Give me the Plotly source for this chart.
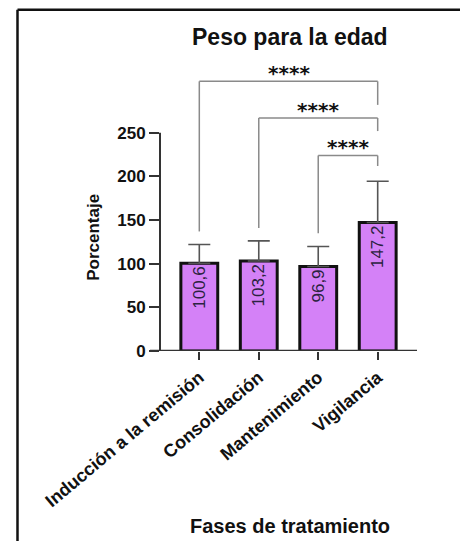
import plotly.graph_objects as go

# ---- data ----
categories = ["Inducción a la remisión", "Consolidación", "Mantenimiento", "Vigilancia"]
means = [100.6, 103.2, 96.9, 147.2]
sd_upper = [21.4, 23.0, 22.8, 47.3]
y_ticks = [0, 50, 100, 150, 200, 250]

# significance comparisons (index pairs) and their bracket levels
comparisons = [(0, 3), (1, 3), (2, 3)]
bracket_level = [309, 267, 224]
left_leg_end = [137, 141, 135]
right_leg_end = [282, 252, 212]
sig_labels = ["****", "****", "****"]

title_text = "Peso para la edad"
y_title = "Porcentaje"
x_title = "Fases de tratamiento"

FONT = "Arial, 'Liberation Sans', sans-serif"
bar_fill = "#d481f7"

labels = [f"{v:.1f}".replace(".", ",") for v in means]

fig = go.Figure()
fig.add_trace(go.Bar(
    x=list(range(len(categories))),
    y=means,
    width=0.62,
    marker=dict(color=bar_fill, line=dict(color="#111111", width=3)),
    error_y=dict(type="data", symmetric=False, array=sd_upper,
                 arrayminus=[0] * len(means), color="#555555",
                 thickness=1.6, width=11),
    text=labels,
    textposition="inside",
    insidetextanchor="end",
    textangle=-90,
    textfont=dict(family=FONT, size=17, color="#2b2340"),
    cliponaxis=False,
    showlegend=False,
))

shapes = []
annotations = []
for (a, b), lvl, le, re_, lab in zip(comparisons, bracket_level, left_leg_end,
                                      right_leg_end, sig_labels):
    line = dict(color="#8a8a8a", width=1.5)
    shapes.append(dict(type="line", xref="x", yref="y", x0=a, x1=a, y0=le, y1=lvl, line=line))
    shapes.append(dict(type="line", xref="x", yref="y", x0=a, x1=b, y0=lvl, y1=lvl, line=line))
    shapes.append(dict(type="line", xref="x", yref="y", x0=b, x1=b, y0=lvl, y1=re_, line=line))
    annotations.append(dict(x=(a + b) / 2, y=lvl + 9.5, xref="x", yref="y",
                            text=lab, showarrow=False, yanchor="middle",
                            font=dict(family="DejaVu Sans", size=20, color="#111111",
                                      weight="bold")))

# axis lines (GraphPad-style)
shapes.append(dict(type="line", xref="paper", yref="y", x0=0, x1=0, y0=0, y1=250,
                   line=dict(color="#333333", width=2)))
shapes.append(dict(type="line", xref="paper", yref="y", x0=-0.039, x1=1.0, y0=0, y1=0,
                   line=dict(color="#333333", width=2.5)))
# outer frame (left and top edges visible in the reference)
frame = dict(color="#111111", width=2.5)
shapes.append(dict(type="line", xref="paper", yref="paper", x0=-0.5545, x1=-0.5545,
                   y0=-0.75, y1=1.185, line=frame))
shapes.append(dict(type="line", xref="paper", yref="paper", x0=-0.5545, x1=1.25,
                   y0=1.185, y1=1.185, line=frame))

annotations.append(dict(x=0.504, y=1.0913, xref="paper", yref="paper", text=title_text,
                        showarrow=False, xanchor="center", yanchor="middle",
                        font=dict(family=FONT, size=23, color="#111111", weight="bold")))
annotations.append(dict(x=-0.2595, y=0.394, xref="paper", yref="paper", text=y_title,
                        showarrow=False, textangle=-90, xanchor="center", yanchor="middle",
                        font=dict(family=FONT, size=17, color="#111111", weight="bold")))
annotations.append(dict(x=0.504, y=-0.6076, xref="paper", yref="paper", text=x_title,
                        showarrow=False, xanchor="center", yanchor="middle",
                        font=dict(family=FONT, size=20, color="#111111", weight="bold")))

fig.update_layout(
    width=460, height=533,
    margin=dict(l=152, r=51, t=55, b=190),
    paper_bgcolor="white", plot_bgcolor="white",
    shapes=shapes, annotations=annotations,
    xaxis=dict(range=[-0.661, 3.661], tickmode="array",
               tickvals=list(range(len(categories))), ticktext=categories,
               tickangle=-40, ticks="outside", ticklen=8, tickwidth=2,
               tickcolor="#333333", showline=False, showgrid=False, zeroline=False,
               tickfont=dict(family=FONT, size=18, color="#111111", weight="bold")),
    yaxis=dict(range=[0, 330], tickmode="array", tickvals=y_ticks,
               ticks="outside", ticklen=10, tickwidth=2, tickcolor="#333333",
               showline=False, showgrid=False, zeroline=False,
               tickfont=dict(family=FONT, size=17, color="#111111", weight="bold")),
)

fig.write_html(
    "out.html",
    post_script="document.documentElement.style.overflow='hidden';"
                "document.body.style.overflow='hidden';",
)
